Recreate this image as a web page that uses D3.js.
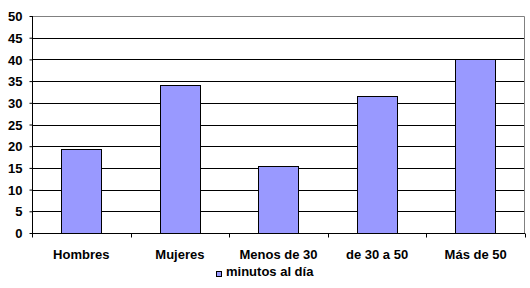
<!DOCTYPE html>
<html>
<head>
<meta charset="utf-8">
<script src="https://cdn.jsdelivr.net/npm/d3@7"></script>
<style>
  body { margin: 0; background: #fff; }
  text { font-family: Arial, "Liberation Sans", sans-serif; font-weight: bold; font-size: 13px; fill: #000; }
</style>
</head>
<body>
<div id="viz"></div>
<script>
// data
let categories = ["Hombres", "Mujeres", "Menos de 30", "de 30 a 50", "Más de 50"]
let values = [19.3, 34.1, 15.4, 31.6, 40]
let yTicks = [0, 5, 10, 15, 20, 25, 30, 35, 40, 45, 50]
let seriesName = "minutos al día"

let margin = {left: 32, right: 5, top: 16, bottom: 55}
let W = 530, H = 288
let width = W - margin.left - margin.right
let height = H - margin.top - margin.bottom

let svg = d3.select("#viz").append("svg")
    .attr("width", W).attr("height", H)
  .append("g")
    .attr("transform", "translate(" + margin.left + "," + margin.top + ")")

let xScale = d3.scaleBand().domain(categories).range([0, width]).paddingInner(0.59).paddingOuter(0.295)
let xBoundary = d3.scaleLinear().domain([0, categories.length]).range([0, width])
let yScale = d3.scaleLinear().domain([0, 50]).range([height, 0])

// gridlines
svg.append("g").selectAll("line")
  .data(yTicks.filter(d => d > 0 && d < 50))
  .join("line")
    .attr("x1", 0).attr("x2", width)
    .attr("y1", d => Math.round(yScale(d)) + 0.5).attr("y2", d => Math.round(yScale(d)) + 0.5)
    .attr("stroke", "#000")

// plot border top/right
svg.append("path")
  .attr("d", `M0,${Math.round(yScale(50)) + 0.5}H${width - 0.5}V${height}`)
  .attr("fill", "none").attr("stroke", "#808080")

// bars
svg.selectAll("rect.bar")
  .data(values)
  .join("rect")
    .attr("class", "bar")
    .attr("x", (d, i) => Math.round(xScale(categories[i])) + 0.5)
    .attr("width", Math.round(xScale.bandwidth()))
    .attr("y", d => Math.round(yScale(d)) + 0.5)
    .attr("height", d => Math.round(yScale(0)) - Math.round(yScale(d)))
    .attr("fill", "#9999ff").attr("stroke", "#000")

// y axis
let yAxis = d3.axisLeft(yScale).tickValues(yTicks).tickSize(3).tickPadding(7)
let yg = svg.append("g").attr("transform", "translate(0.5,0)").call(yAxis)
yg.select(".domain").attr("d", `M0,${Math.round(yScale(50))}V${height}`).attr("stroke", "#000")
yg.selectAll(".tick line").attr("stroke", "#000")
yg.selectAll("text").attr("dy", "0.36em")

// x axis
let xg = svg.append("g").attr("transform", `translate(0,${Math.round(height) + 0.5})`)
xg.append("line").attr("x1", 0).attr("x2", width).attr("stroke", "#000")
xg.selectAll("line.tk")
  .data(d3.range(categories.length + 1))
  .join("line").attr("class", "tk")
    .attr("x1", d => Math.round(xBoundary(d)) + 0.5).attr("x2", d => Math.round(xBoundary(d)) + 0.5)
    .attr("y1", 0).attr("y2", 4).attr("stroke", "#000")
xg.selectAll("text")
  .data(categories)
  .join("text")
    .attr("x", d => xScale(d) + xScale.bandwidth() / 2)
    .attr("y", 25)
    .attr("text-anchor", "middle")
    .text(d => d)

// legend
let legend = d3.select("svg").append("g").attr("transform", "translate(216,271)")
legend.append("rect").attr("x", 0.5).attr("y", 0.5).attr("width", 5).attr("height", 5)
  .attr("fill", "#9999ff").attr("stroke", "#000")
legend.append("text").attr("x", 10).attr("y", 5).text(seriesName)
</script>
</body>
</html>
